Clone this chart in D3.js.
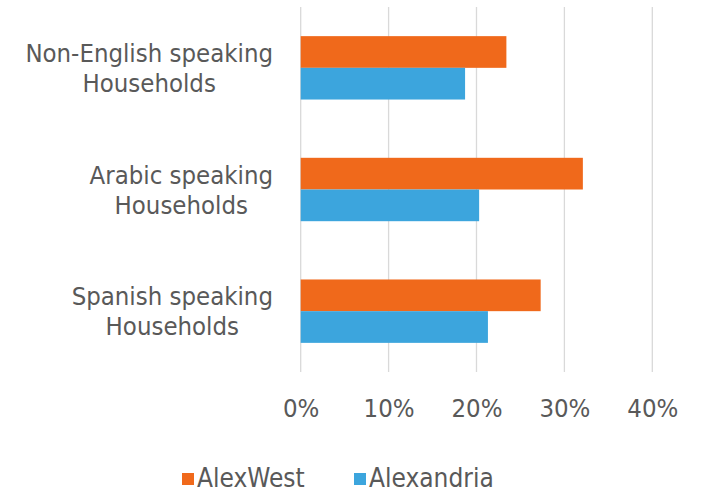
<!DOCTYPE html>
<html>
<head>
<meta charset="utf-8">
<script src="https://cdn.jsdelivr.net/npm/d3@7"></script>
<style>
  html, body { margin: 0; padding: 0; background: #fff; }
  svg { display: block; }
  text { font-family: "DejaVu Sans Condensed", "DejaVu Sans", sans-serif; font-stretch: condensed; fill: #595959; }
</style>
</head>
<body>
<svg id="chart" width="707" height="493"></svg>
<script>
// Share of households by language spoken at home
const categories = ["Non-English speaking Households", "Arabic speaking Households", "Spanish speaking Households"];
const categoryLines = [["Non-English speaking", "Households"], ["Arabic speaking", "Households"], ["Spanish speaking", "Households"]];
const seriesNames = ["AlexWest", "Alexandria"];
const alexWest = [0.234, 0.321, 0.273];
const alexandria = [0.187, 0.203, 0.213];
const tickValues = [0, 0.1, 0.2, 0.3, 0.4];
const colors = ["#F0691B", "#3CA5DD"];

const svg = d3.select("#chart");

const x = d3.scaleLinear().domain([0, 0.4]).range([300.7, 652.3]);
const y = d3.scaleBand().domain(categories).range([7, 372]).paddingInner(0.479).paddingOuter(0.2395);
const ySeries = d3.scaleBand().domain(seriesNames).range([0, y.bandwidth()]);

// vertical gridlines
svg.append("g").selectAll("line").data(tickValues).join("line")
  .attr("x1", d => x(d)).attr("x2", d => x(d))
  .attr("y1", y.range()[0]).attr("y2", y.range()[1])
  .attr("stroke", "#D9D9D9").attr("stroke-width", 1.3);

// bars
const rows = categories.map((c, i) => ({ c, vals: [alexWest[i], alexandria[i]] }));
const groups = svg.append("g").selectAll("g").data(rows).join("g")
  .attr("transform", d => `translate(0,${y(d.c)})`);
groups.selectAll("rect").data(d => d.vals.map((v, j) => ({ v, s: seriesNames[j], j }))).join("rect")
  .attr("x", x(0))
  .attr("y", d => ySeries(d.s))
  .attr("width", d => x(d.v) - x(0))
  .attr("height", ySeries.bandwidth())
  .attr("fill", d => colors[d.j]);

// x-axis tick labels
const xAxis = d3.axisBottom(x).tickValues(tickValues).tickFormat(d3.format(".0%")).tickSize(0).tickPadding(0);
const gx = svg.append("g").attr("transform", "translate(0,417)").call(xAxis);
gx.select(".domain").remove();
gx.selectAll("text").attr("dy", 0).attr("y", 0)
  .style("font-size", "25.5px").style("fill", "#595959")
  .style("font-family", "'DejaVu Sans Condensed', 'DejaVu Sans', sans-serif");

// category labels: two centred lines, block right-aligned to the left of the plot
const labelRight = 273;
const lineGap = 30;
categories.forEach((c, i) => {
  const g = svg.append("g");
  const lines = categoryLines[i];
  const texts = g.selectAll("text").data(lines).join("text")
    .attr("font-size", 25.5)
    .attr("text-anchor", "middle")
    .text(d => d);
  const maxW = d3.max(texts.nodes(), n => n.getComputedTextLength());
  const cx = labelRight - maxW / 2;
  const cy = y(c) + y.bandwidth() / 2;
  texts.attr("x", cx)
    .attr("y", (d, k) => cy + (k - (lines.length - 1) / 2) * lineGap)
    .attr("dy", "0.36em");
});

// legend
const legendItems = [{ name: seriesNames[0], x: 182 }, { name: seriesNames[1], x: 354 }];
const lg = svg.append("g").selectAll("g").data(legendItems).join("g")
  .attr("transform", d => `translate(${d.x},473)`);
lg.append("rect").attr("width", 12).attr("height", 12).attr("fill", (d, i) => colors[i]);
lg.append("text").attr("x", 15).attr("y", 14).attr("font-size", 26).text(d => d.name);
</script>
</body>
</html>
